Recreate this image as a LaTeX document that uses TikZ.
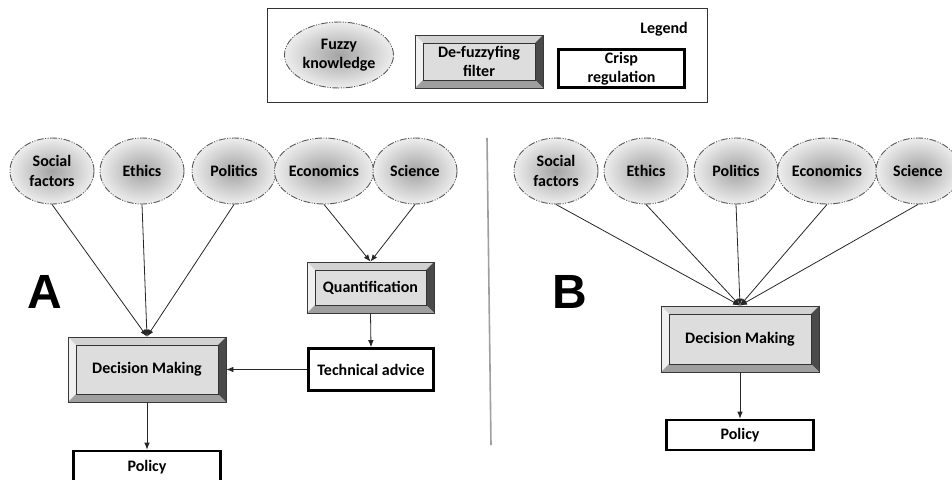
\documentclass[tikz,border=0pt]{standalone}
\usepackage{fontspec}
\setmainfont{Carlito}
\newfontfamily\bigsans{Liberation Sans}
\usetikzlibrary{arrows.meta,shapes.geometric}
\newcommand\lbl{\fontsize{16}{19.5}\selectfont\bfseries}
\def\bw{8pt}
\begin{document}
\begin{tikzpicture}[x=1pt,y=-1pt,
  fuzzy/.style={ellipse, minimum width=84pt, minimum height=66pt, inner sep=0pt,
    draw=gray!70!black, line width=0.9pt,
    dash pattern=on 7pt off 1.5pt on 1pt off 1.5pt on 1pt off 1.5pt,
    inner color=gray!72, outer color=gray!14, font=\lbl, align=center},
  bevelbox/.style={rectangle, inner sep=0pt, draw=gray!45!black, line width=0.8pt,
    fill=gray!27, font=\lbl, align=center,
    path picture={
      \path (path picture bounding box.north west) coordinate (pNW)
            (path picture bounding box.north east) coordinate (pNE)
            (path picture bounding box.south west) coordinate (pSW)
            (path picture bounding box.south east) coordinate (pSE);
      \fill[gray!35] (pNW) -- (pNE) -- ([shift={(-\bw,-\bw)}]pNE) -- ([shift={(\bw,-\bw)}]pNW) -- cycle;
      \fill[gray!12] (pNW) -- (pSW) -- ([shift={(\bw,\bw)}]pSW) -- ([shift={(\bw,-\bw)}]pNW) -- cycle;
      \fill[gray!95!white!55!black] (pNE) -- (pSE) -- ([shift={(-\bw,\bw)}]pSE) -- ([shift={(-\bw,-\bw)}]pNE) -- cycle;
      \fill[gray!75] (pSW) -- (pSE) -- ([shift={(-\bw,\bw)}]pSE) -- ([shift={(\bw,\bw)}]pSW) -- cycle;
      \draw[gray!40!black, line width=0.7pt] ([shift={(\bw,-\bw)}]pNW) rectangle ([shift={(-\bw,\bw)}]pSE);
    }},
  crisp/.style={rectangle, inner sep=0pt, draw=black, line width=2.6pt, fill=white,
    font=\lbl, align=center},
  conn/.style={draw=black!85, line width=0.8pt, -{Latex[length=7pt,width=5.5pt]}},
  biglbl/.style={font=\bigsans\fontsize{48}{48}\selectfont\bfseries, inner sep=0pt}
]
\useasboundingbox (0,0) rectangle (952,479);

% Legend
\draw[line width=0.8pt, black!80] (267,8) rectangle (707,102);
\node[anchor=base east, font=\lbl, inner sep=0pt] (legendtxt) at (688,33) {Legend};
\node[fuzzy, minimum width=109pt, minimum height=66pt] (lgfuzzy) at (339,55) {Fuzzy\\knowledge};
\node[bevelbox, minimum width=128pt, minimum height=53pt] (lgbevel) at (479,61.5) {De-fuzzyfing\\filter};
\node[crisp, minimum width=126pt, minimum height=38pt] (lgcrisp) at (621.5,68.5) {Crisp\\regulation};

% Panel A
\node[fuzzy] (sfA) at (52,171) {Social\\factors};
\node[fuzzy] (etA) at (142,171) {Ethics};
\node[fuzzy] (poA) at (234,171) {Politics};
\node[fuzzy] (ecA) at (324,171) {Economics};
\node[fuzzy] (scA) at (415,171) {Science};
\node[bevelbox, minimum width=127pt, minimum height=51pt] (quA) at (370.5,287.5) {Quantification};
\node[crisp, minimum width=125pt, minimum height=42pt] (tcA) at (371,369.5) {Technical advice};
\node[bevelbox, minimum width=158pt, minimum height=65pt] (dmA) at (147,369.5) {Decision Making};
\node[crisp, minimum width=147pt, minimum height=32pt] (plA) at (147,467) {Policy};
\node[biglbl, anchor=base west] (labA) at (27,308) {A};

\draw[conn] (sfA.south) -- (dmA.north);
\draw[conn] (etA.south) -- (dmA.north);
\draw[conn] (poA.south) -- (dmA.north);
\draw[conn] (ecA.south) -- (quA.north);
\draw[conn] (scA.south) -- (quA.north);
\draw[conn] (quA.south) -- (tcA.north);
\draw[conn] (tcA.west) -- (dmA.east);
\draw[conn] (dmA.south) -- (plA.north);

% Divider
\draw[gray!75, line width=1.6pt] (487,138) -- (491,445);

% Panel B
\node[fuzzy] (sfB) at (556,171) {Social\\factors};
\node[fuzzy] (etB) at (646,171) {Ethics};
\node[fuzzy] (poB) at (736,171) {Politics};
\node[fuzzy] (ecB) at (827,171) {Economics};
\node[fuzzy] (scB) at (918,171) {Science};
\node[bevelbox, minimum width=158pt, minimum height=66pt] (dmB) at (740,339) {Decision Making};
\node[crisp, minimum width=147pt, minimum height=30pt] (plB) at (740,435) {Policy};
\node[biglbl, anchor=base west] (labB) at (552,308) {B};

\draw[conn] (sfB.south) -- (dmB.north);
\draw[conn] (etB.south) -- (dmB.north);
\draw[conn] (poB.south) -- (dmB.north);
\draw[conn] (ecB.south) -- (dmB.north);
\draw[conn] (scB.south) -- (dmB.north);
\draw[conn] (dmB.south) -- (plB.north);
\end{tikzpicture}
\end{document}
